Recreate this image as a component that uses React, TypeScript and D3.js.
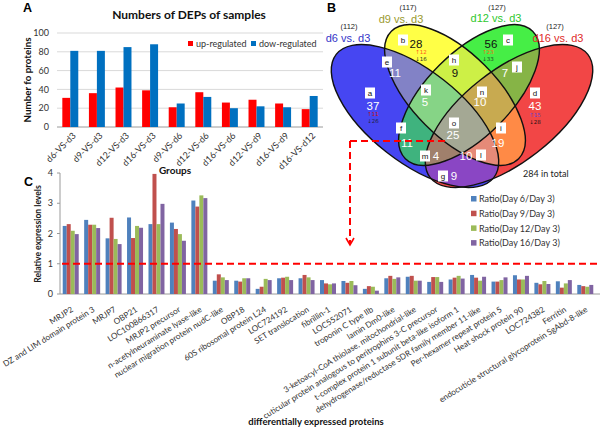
import React from "react";
import * as d3 from "d3";

// ---------- Panel A data ----------
const groupsA = ["d6-VS-d3", "d9-VS-d3", "d12-VS-d3", "d16-VS-d3", "d9-VS-d6", "d12-VS-d6", "d16-VS-d6", "d12-VS-d9", "d16-VS-d9", "d16-VS-d12"];
const upRegulated = [31, 36, 42, 39, 21, 37, 26, 29, 25, 19];
const downRegulated = [81, 81, 85, 88, 25, 32, 20, 22, 21, 33];
const seriesA = ["up-regulated", "dow-regulated"];
const yTicksA = [0, 20, 40, 60, 80, 100];

// ---------- Panel B data ----------
const vennSets = ["d6 vs. d3", "d9 vs. d3", "d12 vs. d3", "d16 vs. d3"];
const vennSetTotals = [112, 117, 127, 127];
const vennRegionIds = ["a", "b", "c", "d", "e", "f", "g", "h", "i", "j", "k", "l", "m", "n", "o"];
const vennRegionCounts = [37, 28, 56, 43, 11, 11, 9, 9, 19, 7, 5, 10, 4, 10, 25];
const vennUniqueUp = [11, 12, 23, 15];
const vennUniqueDown = [26, 16, 33, 28];
const vennTotal = 284;

// ---------- Panel C data ----------
const proteins = [
  "MRJP2", "DZ and LIM domain protein 3", "MRJP7", "OBP21", "LOC100866317", "MRJP2 precursor",
  "n-acetylneuraminate lyase-like", "nuclear migration protein nudC-like", "OBP18",
  "60S ribosomal protein L24", "LOC724192", "SET translocation", "fibrillin-1", "LOC552071",
  "troponin C type IIb", "lamin Dm0-like", "3-ketoacyl-CoA thiolase, mitochondrial-like",
  "cuticular protein analogous to peritrophins 3-C precursor",
  "t-complex protein 1 subunit beta-like isoform 1",
  "dehydrogenase/reductase SDR family member 11-like", "Per-hexamer repeat protein 5",
  "Heat shock protein 90", "LOC724382", "Ferritin", "endocuticle structural glycoprotein SgAbd-8-like",
];
const ratioDay6 = [2.25, 2.45, 1.84, 2.53, 2.31, 2.36, 3.09, 0.44, 0.44, 0.17, 0.52, 0.52, 0.46, 0.43, 0.17, 0.52, 0.57, 0.40, 0.48, 0.63, 0.41, 0.62, 0.37, 0.42, 0.30];
const ratioDay9 = [2.31, 2.29, 2.52, 1.85, 3.97, 2.15, 2.89, 0.65, 0.41, 0.24, 0.54, 0.63, 0.35, 0.37, 0.26, 0.60, 0.60, 0.56, 0.54, 0.54, 0.41, 0.48, 0.32, 0.21, 0.26];
const ratioDay12 = [2.09, 2.29, 1.82, 2.25, 2.31, 1.98, 3.26, 0.55, 0.52, 0.50, 0.57, 0.55, 0.32, 0.43, 0.24, 0.50, 0.44, 0.56, 0.60, 0.44, 0.46, 0.48, 0.43, 0.35, 0.24];
const ratioDay16 = [1.98, 2.18, 1.65, 2.19, 2.98, 1.76, 3.17, 0.46, 0.52, 0.46, 0.46, 0.46, 0.35, 0.29, 0.11, 0.55, 0.44, 0.40, 0.51, 0.57, 0.55, 0.60, 0.33, 0.46, 0.30];
const ratioSeries = ["Ratio(Day 6/Day 3)", "Ratio(Day 9/Day 3)", "Ratio(Day 12/Day 3)", "Ratio(Day 16/Day 3)"];
const yTicksC = [0, 1, 2, 3, 4];
const thresholdC = 1;

// ---------- styling ----------
const colorsA = ["#ff0000", "#0070c0"];
const colorsC = ["#4f81bd", "#c0504d", "#9bbb59", "#8064a2"];
const setColors = ["#3535c8", "#9a9a2e", "#2ec82e", "#e02a2a"];
const regionColor: Record<number, string> = {
  1: "#4646f2", 2: "#ffff46", 4: "#46ee46", 8: "#f24646",
  3: "#8282c6", 5: "#3fb37e", 6: "#cdf046", 9: "#8a46c4", 10: "#ff8a46", 12: "#86b446",
  7: "#86d486", 11: "#e58a78", 13: "#a0806c", 14: "#c8aa50", 15: "#a4a894",
};

// Venn geometry (layout): blue & yellow, mirrored for red & green
const AXIS = 462;
const blueE = { cx: 415, cy: 116, rx: 100, ry: 46, rot: 38 };
const yellowE = { cx: 455, cy: 95, rx: 90, ry: 42, rot: 45 };
const mirror = (e: any) => ({ cx: 2 * AXIS - e.cx, cy: e.cy, rx: e.rx, ry: e.ry, rot: -e.rot });
const ellipses = [blueE, yellowE, mirror(yellowE), mirror(blueE)];

// annotation layout for regions: [boxX, boxY, numX, numY, numColor]
const regionLayout: Record<string, [number, number, number, number, string]> = {
  a: [370, 93, 373, 106, "#fff"],
  b: [403, 40, 416, 44, "#111"],
  c: [508, 40, 491, 44, "#111"],
  d: [535, 93, 535, 106, "#fff"],
  e: [387, 62, 395, 73, "#fff"],
  f: [401, 128, 407, 143, "#fff"],
  g: [443, 176, 454, 176, "#fff"],
  h: [454, 60, 455, 73, "#111"],
  i: [501, 128, 498, 143, "#fff"],
  j: [517, 67, 505, 73, "#fff"],
  k: [426, 90, 425, 102, "#fff"],
  l: [481, 155, 466, 156, "#fff"],
  m: [425, 156, 436, 156, "#fff"],
  n: [482, 92, 480, 102, "#fff"],
  o: [454, 123, 453, 135, "#fff"],
};
const arrowLayout = [
  [373, 114, 373, 121, "#d01010", "#222244"],
  [421, 52, 421, 59, "#ff5a1a", "#333322"],
  [488, 52, 488, 59, "#ff6a1a", "#224422"],
  [535, 115, 535, 122, "#6a44d0", "#221111"],
];
const setLabelLayout = [
  [349, 26, 348, 42],
  [408, 7.5, 401, 23],
  [497, 7, 496, 22],
  [555, 26, 558, 42],
];

const popcount = (m: number) => (m & 1) + ((m >> 1) & 1) + ((m >> 2) & 1) + ((m >> 3) & 1);

function EllipseShape({ e, ...rest }: any) {
  return <ellipse cx={e.cx} cy={e.cy} rx={e.rx} ry={e.ry} transform={`rotate(${e.rot} ${e.cx} ${e.cy})`} {...rest} />;
}

export default function App() {
  // Panel A scales
  const xA = d3.scaleBand<string>().domain(groupsA).range([57, 323]).paddingInner(0.4).paddingOuter(0.2);
  const xAInner = d3.scaleBand<string>().domain(seriesA).range([0, xA.bandwidth()]);
  const yA = d3.scaleLinear().domain([0, 100]).range([127, 33]);
  const valuesA = [upRegulated, downRegulated];

  // Panel C scales
  const xC = d3.scaleBand<string>().domain(proteins).range([60, 596]).paddingInner(0.254).paddingOuter(0.127);
  const xCInner = d3.scaleBand<string>().domain(ratioSeries).range([0, xC.bandwidth()]);
  const yC = d3.scaleLinear().domain([0, 4]).range([294, 173]);
  const valuesC = [ratioDay6, ratioDay9, ratioDay12, ratioDay16];

  const masks = d3.range(1, 16).sort((a, b) => popcount(a) - popcount(b) || a - b);

  const sansC = "Lato, 'Open Sans', sans-serif";
  const arial = "'Liberation Sans', Arial, sans-serif";

  return (
    <svg width={600} height={433} style={{ position: "absolute", left: 0, top: 0, background: "#fff" }} fontFamily={sansC}>
      <rect x={0} y={0} width={600} height={433} fill="#fff" />
      <defs>
        {ellipses.map((e, i) => (
          <clipPath id={`vclip${i}`} key={i}>
            <EllipseShape e={e} />
          </clipPath>
        ))}
      </defs>

      {/* ================= Panel A ================= */}
      <text x={23} y={12} fontFamily={arial} fontWeight="bold" fontSize={12.5}>A</text>
      <text x={189} y={19} textAnchor="middle" fontWeight="bold" fontSize={12} fill="#111">Numbers of DEPs of samples</text>
      {yTicksA.map((t) => (
        <g key={t}>
          <line x1={57} x2={323} y1={yA(t)} y2={yA(t)} stroke={t === 0 ? "#9a9a9a" : "#d9d9d9"} strokeWidth={1} />
          <text x={49} y={yA(t)} dy="0.35em" textAnchor="end" fontSize={9} fill="#333">{t}</text>
        </g>
      ))}
      {groupsA.map((g, gi) => (
        <g key={g}>
          {seriesA.map((s, si) => (
            <rect key={s} x={(xA(g) as number) + (xAInner(s) as number)} width={xAInner.bandwidth()}
              y={yA(valuesA[si][gi])} height={yA(0) - yA(valuesA[si][gi])} fill={colorsA[si]} />
          ))}
          <text transform={`translate(${(xA(g) as number) + xA.bandwidth() / 2 + 4},${134}) rotate(-45)`}
            textAnchor="end" dy="0.35em" fontSize={9} fill="#333">{g}</text>
        </g>
      ))}
      <text transform="translate(31,80) rotate(-90)" textAnchor="middle" fontWeight="bold" fontSize={9.8} fill="#111">Number fo proteins</text>
      <text x={175} y={174} textAnchor="middle" fontWeight="bold" fontSize={10} fill="#111">Groups</text>
      {seriesA.map((s, si) => {
        const lx = si === 0 ? 188 : 251;
        return (
          <g key={s}>
            <rect x={lx} y={41} width={5} height={5} fill={colorsA[si]} />
            <text x={lx + 8} y={44} dy="0.35em" fontSize={9} fill="#333">{s}</text>
          </g>
        );
      })}

      {/* ================= Panel B ================= */}
      <text x={327} y={12} fontFamily={arial} fontWeight="bold" fontSize={12.5}>B</text>
      {masks.map((m) => {
        const members = [0, 1, 2, 3].filter((i) => m & (1 << i));
        let el: any = <EllipseShape e={ellipses[members[0]]} fill={regionColor[m]} />;
        for (const i of members.slice(1)) el = <g clipPath={`url(#vclip${i})`}>{el}</g>;
        return <g key={m}>{el}</g>;
      })}
      {ellipses.map((e, i) => (
        <EllipseShape key={i} e={e} fill="none" stroke="#111" strokeWidth={1.4} />
      ))}
      {vennSets.map((s, i) => (
        <g key={s} fontFamily={arial}>
          <text x={setLabelLayout[i][0]} y={setLabelLayout[i][1]} dy="0.35em" textAnchor="middle" fontSize={7.5} fill="#222">({vennSetTotals[i]})</text>
          <text x={setLabelLayout[i][2]} y={setLabelLayout[i][3]} textAnchor="middle" fontSize={11} fill={setColors[i]}>{s}</text>
        </g>
      ))}
      {vennRegionIds.map((id, i) => {
        const [bx, by, nx, ny, nc] = regionLayout[id];
        return (
          <g key={id} fontFamily={arial}>
            <rect x={bx - 5} y={by - 5.5} width={10} height={11} fill="#fff" />
            <text x={bx} y={by} dy="0.35em" textAnchor="middle" fontSize={8} fill="#111">{id}</text>
            <text x={nx} y={ny} dy="0.36em" textAnchor="middle" fontSize={11.5} fill={nc}>{vennRegionCounts[i]}</text>
          </g>
        );
      })}
      {vennUniqueUp.map((u, i) => (
        <g key={i} fontFamily="'DejaVu Sans', sans-serif" fontSize={5.5} textAnchor="middle">
          <text x={arrowLayout[i][0] as number} y={arrowLayout[i][1] as number} dy="0.35em" fill={arrowLayout[i][4] as string}>↑{u}</text>
          <text x={arrowLayout[i][2] as number} y={arrowLayout[i][3] as number} dy="0.35em" fill={arrowLayout[i][5] as string}>↓{vennUniqueDown[i]}</text>
        </g>
      ))}
      <text x={523} y={177} fontSize={9} fill="#222">{vennTotal} in total</text>
      {/* dashed connector */}
      <line x1={350} y1={141} x2={447} y2={141} stroke="#ff0000" strokeWidth={2} strokeDasharray="7,4" />
      <line x1={350} y1={141} x2={350} y2={244} stroke="#ff0000" strokeWidth={2} strokeDasharray="7,4" />
      <polyline points="346,238 350,245 354,238" fill="none" stroke="#ff0000" strokeWidth={1.6} />

      {/* ================= Panel C ================= */}
      <text x={24} y={186} fontFamily={arial} fontWeight="bold" fontSize={12.5}>C</text>
      {ratioSeries.map((s, si) => (
        <g key={s}>
          <rect x={471} y={196 + si * 14.7} width={5.5} height={5.5} fill={colorsC[si]} />
          <text x={479} y={199 + si * 14.7} dy="0.35em" fontSize={9} fill="#333">{s}</text>
        </g>
      ))}
      <line x1={60} x2={600} y1={yC(0)} y2={yC(0)} stroke="#9a9a9a" />
      <line x1={60} x2={60} y1={yC(0)} y2={yC(4)} stroke="#9a9a9a" />
      {yTicksC.map((t) => (
        <g key={t}>
          <line x1={57} x2={60} y1={yC(t)} y2={yC(t)} stroke="#9a9a9a" />
          <text x={53} y={yC(t)} dy="0.35em" textAnchor="end" fontSize={9} fill="#333">{t}</text>
        </g>
      ))}
      {proteins.map((p, pi) => (
        <g key={p}>
          {ratioSeries.map((s, si) => (
            <rect key={s} x={(xC(p) as number) + (xCInner(s) as number)} width={xCInner.bandwidth()}
              y={yC(valuesC[si][pi])} height={yC(0) - yC(valuesC[si][pi])} fill={colorsC[si]} />
          ))}
          <text transform={`translate(${(xC(p) as number) + xC.bandwidth() / 2 + 3},${311}) rotate(-32)`}
            textAnchor="end" fontSize={8.2} fill="#333">{p}</text>
        </g>
      ))}
      <line x1={62} x2={600} y1={yC(thresholdC)} y2={yC(thresholdC)} stroke="#ff0000" strokeWidth={2} strokeDasharray="7,4" />
      <text transform="translate(41,234) rotate(-90)" textAnchor="middle" fontWeight="bold" fontSize={8.6} fill="#222">Relative expression levels</text>
      <text x={316} y={425} textAnchor="middle" fontWeight="bold" fontSize={9.5} fill="#111">differentially expressed proteins</text>
    </svg>
  );
}
